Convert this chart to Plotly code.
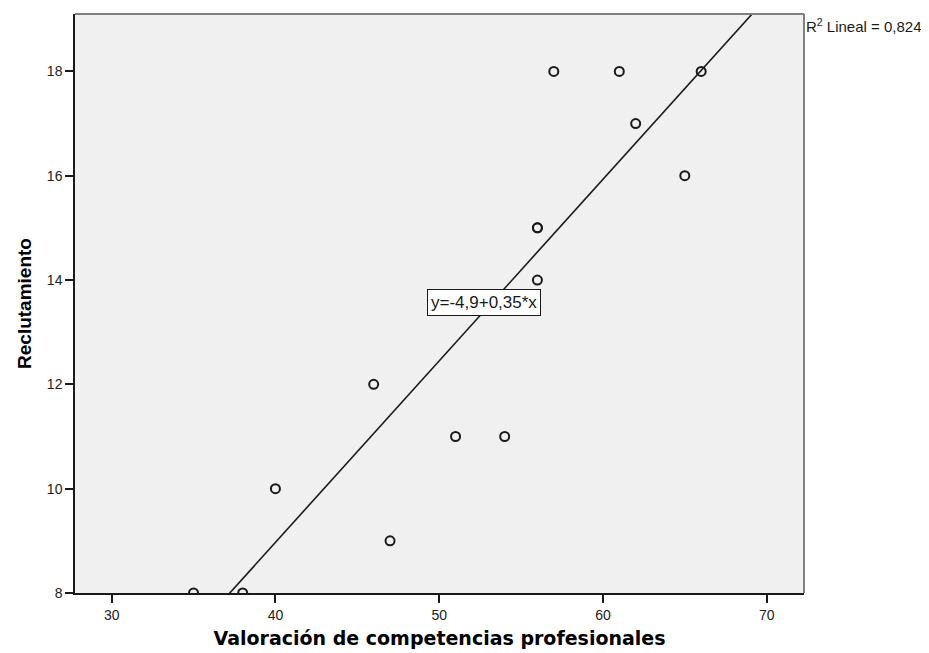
import plotly.graph_objects as go

# Data
valoracion = [35, 38, 40, 46, 47, 51, 54, 56, 56, 56, 57, 61, 62, 65, 66]
reclutamiento = [8, 8, 10, 12, 9, 11, 11, 14, 15, 15, 18, 18, 17, 16, 18]

# Fit line (as drawn in the picture)
reg_intercept = -4.95
reg_slope = 0.348
x_range = [27.76, 72.28]
y_range = [8, 19.1]

x_ticks = [30, 40, 50, 60, 70]
y_ticks = [8, 10, 12, 14, 16, 18]

eq_label = "y=-4,9+0,35*x"
r2_label = "R<sup>2</sup> Lineal = 0,824"

line_x = [x_range[0], x_range[1]]
line_y = [reg_intercept + reg_slope * v for v in line_x]

FONT = "Liberation Sans, Arial, sans-serif"
WIDE = "DejaVu Sans, Verdana, sans-serif"

fig = go.Figure()
fig.add_trace(go.Scatter(
    x=line_x, y=line_y, mode="lines",
    line=dict(color="#1a1a1a", width=1.6),
    hoverinfo="skip", showlegend=False,
))
fig.add_trace(go.Scatter(
    x=valoracion, y=reclutamiento, mode="markers",
    marker=dict(symbol="circle-open", size=9, color="#1a1a1a", line=dict(width=2, color="#1a1a1a")),
    showlegend=False,
))

fig.update_layout(
    width=921, height=645,
    margin=dict(l=67, r=125, t=6, b=60, autoexpand=False),
    paper_bgcolor="white",
    plot_bgcolor="#F0F0F0",
    font=dict(family=FONT, color="#000000", size=14),
    xaxis=dict(
        range=x_range, tickvals=x_ticks, ticks="outside", ticklen=8, tickwidth=1.5,
        tickcolor="#1a1a1a", showgrid=False, zeroline=False,
        showline=True, linecolor="#1a1a1a", linewidth=1.5,
        tickfont=dict(size=14, family=FONT, color="#222222"),
        title=dict(text="<b>Valoración de competencias profesionales</b>",
                   font=dict(size=19, family=WIDE, color="#000000"), standoff=10),
    ),
    yaxis=dict(
        range=y_range, tickvals=y_ticks, ticks="outside", ticklen=8, tickwidth=1.5,
        tickcolor="#1a1a1a", showgrid=False, zeroline=False,
        showline=True, linecolor="#1a1a1a", linewidth=1.5,
        tickfont=dict(size=14, family=FONT, color="#222222"),
        title=dict(text="<b>Reclutamiento</b>",
                   font=dict(size=19, family=FONT, color="#000000"), standoff=10),
    ),
    shapes=[
        dict(type="line", xref="paper", yref="paper", x0=0, x1=1, y0=1, y1=1,
             line=dict(color="#808080", width=2)),
        dict(type="line", xref="paper", yref="paper", x0=1, x1=1, y0=0, y1=1,
             line=dict(color="#808080", width=2)),
    ],
    annotations=[
        dict(x=52.74, y=13.56, xref="x", yref="y", text=eq_label, showarrow=False,
             bgcolor="white", bordercolor="#1a1a1a", borderwidth=1, borderpad=3,
             font=dict(size=17, family=FONT, color="#1a1a1a")),
        dict(x=1.0, y=1.0, xref="paper", yref="paper", xanchor="left", yanchor="top",
             xshift=0, yshift=0, text=r2_label, showarrow=False,
             font=dict(size=15, family=FONT, color="#1a1a1a")),
    ],
)

fig.write_html("out.html")
